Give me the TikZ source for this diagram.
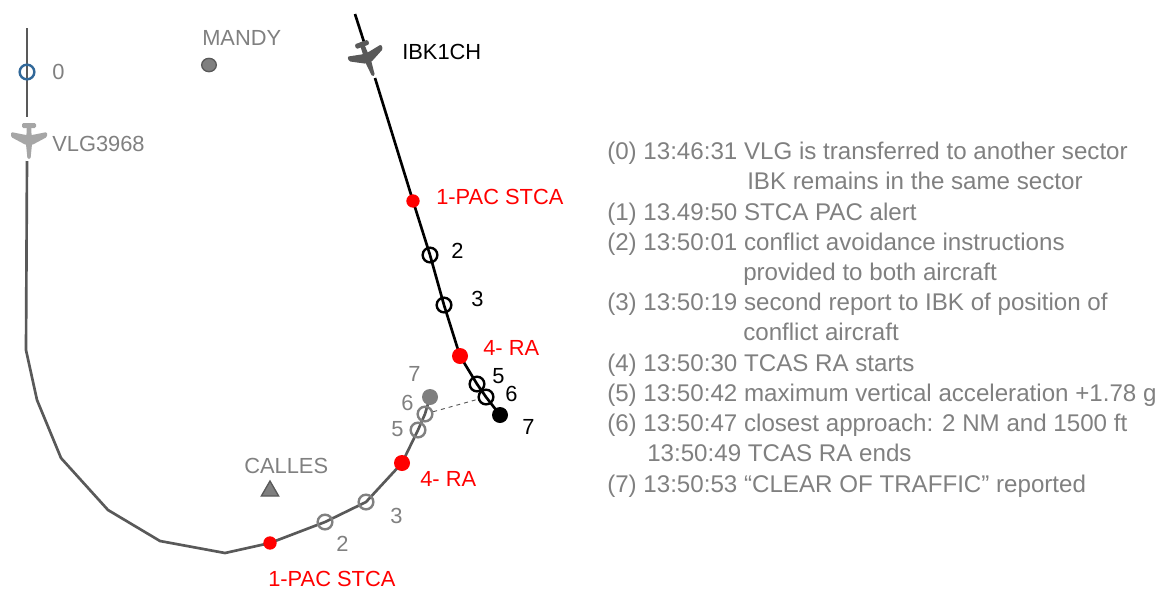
\documentclass[tikz,border=0pt]{standalone}
\usepackage{fontspec}
\setmainfont{Liberation Sans}
\usetikzlibrary{shapes.geometric,backgrounds}
\definecolor{txtgray}{HTML}{808080}
\definecolor{trackgray}{HTML}{595959}
\definecolor{ptgray}{HTML}{7F7F7F}
\tikzset{
	lbl/.style={font=\fontsize{16.4pt}{18pt}\selectfont,text=txtgray,inner sep=0pt,anchor=base west},
	lblblack/.style={lbl,text=black},
	lblred/.style={lbl,text=red},
	info/.style={lbl,font=\fontsize{18.1pt}{20pt}\selectfont},
	ring/.style={circle,draw,line width=1.8pt,fill=none,minimum size=11pt,inner sep=0pt},
	dot/.style={circle,fill,minimum size=11pt,inner sep=0pt},
	track/.style={line width=2pt,color=trackgray},
	beacon/.style={fill=ptgray,draw=trackgray,line width=1pt,inner sep=0pt},
	plane/.pic={
		\fill[pic actions,rounded corners=1pt] (-2,-17)--(2,-17)--(3,4)--(1.5,19)--(-1.5,19)--(-3,4)--cycle;
		\fill[pic actions,rounded corners=1pt] (-18,-8)--(-3,-5)--(3,-5)--(18,-8)--(18,-3)--(3,5)--(-3,5)--(-18,-3)--cycle;
		\fill[pic actions,rounded corners=1pt] (-7,-17)--(7,-17)--(7,-12)--(-7,-12)--cycle;
	}
}
\begin{document}
\begin{tikzpicture}[x=0.75pt,y=-0.75pt]
	\useasboundingbox (0,0) rectangle (1164,590);
	% second aircraft track
	\coordinate (v0) at (27,28);
	\coordinate (v1) at (27,117);
	\coordinate (v2) at (27,161);
	\coordinate (v3) at (26,350);
	\coordinate (v4) at (37,400);
	\coordinate (v5) at (61,458);
	\coordinate (v6) at (108,510);
	\coordinate (v7) at (160,541);
	\coordinate (v8) at (225,553);
	\node[dot,red,minimum size=10pt] (vpac) at (270,543) {};
	\node[ring,draw=txtgray] (vtwo) at (325,522) {};
	\node[ring,draw=txtgray] (vthree) at (366,502) {};
	\node[dot,red,minimum size=12pt] (vra) at (402,463) {};
	\node[ring,draw=txtgray] (vfive) at (418,430) {};
	\node[ring,draw=txtgray] (vsix) at (425,414) {};
	\node[dot,ptgray,minimum size=12pt] (vend) at (430,397) {};
	\node[ring,draw={rgb,255:red,49;green,104;blue,153}] (vzero) at (27,72) {};
	% first aircraft track
	\coordinate (i0) at (355,14);
	\coordinate (i1) at (364,42);
	\coordinate (i2) at (375,78);
	\node[dot,red,minimum size=10pt] (ipac) at (413,201) {};
	\node[ring] (itwo) at (430,255) {};
	\node[ring] (ithree) at (444,305) {};
	\node[dot,red,minimum size=12pt] (ira) at (460,356) {};
	\node[ring] (ifive) at (477,384) {};
	\node[ring] (isix) at (486,397) {};
	\node[dot,black,minimum size=12pt] (iend) at (500,415) {};
	\begin{pgfonlayer}{background}
		\draw[track] (v0)--(v1);
		\draw[track] (v2)--(v3)--(v4)--(v5)--(v6)--(v7)--(v8)--(vpac.center)--(vtwo.center)--(vthree.center)--(vra.center)--(vfive.center)--(vsix.center)--(vend.center);
		\draw[line width=2pt] (i0)--(i1);
		\draw[line width=2pt] (i2)--(ipac.center)--(itwo.center)--(ithree.center)--(ira.center)--(ifive.center)--(isix.center)--(iend.center);
	\end{pgfonlayer}
	\draw[dashed,line width=0.7pt,trackgray] (vsix)--(isix);
	% aircraft
	\pic[fill=gray!70] at (29,140) {plane};
	\pic[fill=trackgray,rotate=20] at (367,58) {plane};
	% beacons
	\node[ellipse,beacon,minimum width=11pt,minimum height=10pt] (mandy) at (209,65) {};
	\node[regular polygon,regular polygon sides=3,beacon,minimum size=15pt] (calles) at (270,491) {};
	% labels
	\node[lbl] at (202,45) {MANDY};
	\node[lbl] at (244,473) {CALLES};
	\node[lblblack] at (402,59) {IBK1CH};
	\node[lbl] at (52,79) {0};
	\node[lbl] at (52,151) {VLG3968};
	\node[lblred] at (436,204) {1-PAC STCA};
	\node[lblblack] at (451,258) {2};
	\node[lblblack] at (471,306) {3};
	\node[lblred] at (483,355) {4- RA};
	\node[lblblack] at (492,383) {5};
	\node[lblblack] at (505,401) {6};
	\node[lblblack] at (522,434) {7};
	\node[lblred] at (268,586) {1-PAC STCA};
	\node[lbl] at (336,551) {2};
	\node[lbl] at (390,523) {3};
	\node[lblred] at (420,486) {4- RA};
	\node[lbl] at (391,436) {5};
	\node[lbl] at (401,410) {6};
	\node[lbl] at (408,381) {7};
	% chronology
	\foreach \xpos/\ypos/\txt in {
		607/159/{(0) 13:46:31 VLG is transferred to another sector},
		747/189/{IBK remains in the same sector},
		607/220/{(1) 13.49:50 STCA PAC alert},
		607/250/{(2) 13:50:01 conflict avoidance instructions},
		743/280/{provided to both aircraft},
		607/310/{(3) 13:50:19 second report to IBK of position of},
		743/340/{conflict aircraft},
		607/371/{(4) 13:50:30 TCAS RA starts},
		607/401/{(5) 13:50:42 maximum vertical acceleration +1.78 g},
		607/431/{(6) 13:50:47 closest approach: 2 NM and 1500 ft},
		647/461/{13:50:49 TCAS RA ends},
		607/492/{(7) 13:50:53 “CLEAR OF TRAFFIC” reported}}
		\node[info] at (\xpos,\ypos) {\txt};
\end{tikzpicture}
\end{document}
